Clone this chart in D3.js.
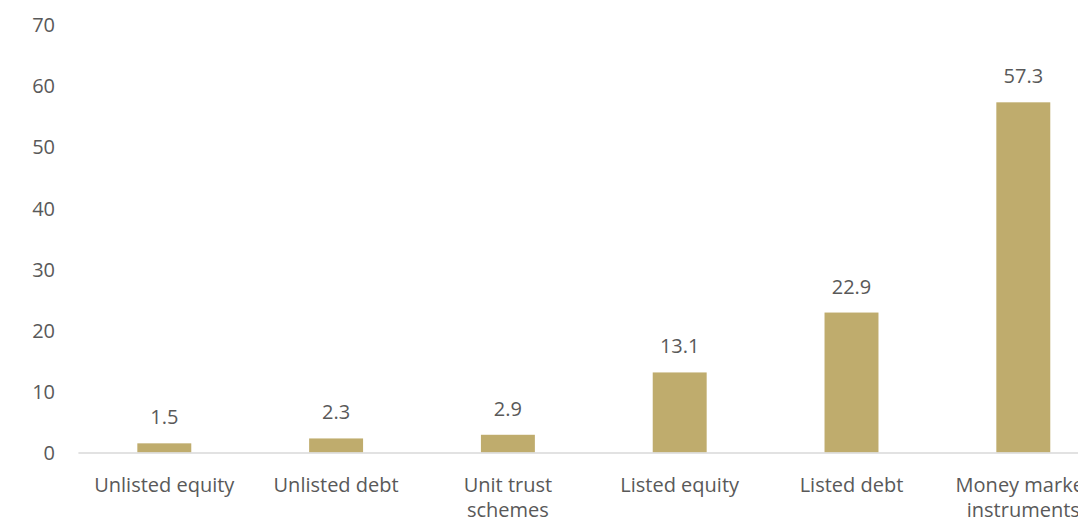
<!DOCTYPE html>
<html>
<head>
<meta charset="utf-8">
<script src="https://cdn.jsdelivr.net/npm/d3@7"></script>
<style>
  html, body { margin: 0; padding: 0; background: #fff; overflow: hidden; }
  svg { display: block; }
  text { font-family: "Open Sans", "Liberation Sans", sans-serif; fill: #595959; }
</style>
</head>
<body>
<svg id="chart" width="1078" height="518"></svg>
<script>
// Asset classes and their share values
const categories = [
  ["Unlisted equity"],
  ["Unlisted debt"],
  ["Unit trust", "schemes"],
  ["Listed equity"],
  ["Listed debt"],
  ["Money market", "instruments"]
];
const values = [1.5, 2.3, 2.9, 13.1, 22.9, 57.3];
const yTicks = [0, 10, 20, 30, 40, 50, 60, 70];

const svg = d3.select("#chart");
const barColor = "#bfac6d";
const fontSize = 20;

const x = d3.scaleBand()
  .domain(d3.range(categories.length))
  .range([78.4, 1109.2])
  .paddingInner(0.686)
  .paddingOuter(0.343);

const y = d3.scaleLinear()
  .domain([0, 70])
  .range([452.5, 24.7]);

// Y tick labels (no axis line)
const yAxis = d3.axisLeft(y).tickValues(yTicks).tickSize(0).tickPadding(0);
const yg = svg.append("g").attr("transform", "translate(55,0)").call(yAxis);
yg.select(".domain").remove();
yg.selectAll("text")
  .attr("font-size", fontSize)
  .attr("fill", "#595959")
  .attr("font-family", "Open Sans, Liberation Sans, sans-serif")
  .attr("dy", "0.35em");

// Bars
svg.append("g").selectAll("rect")
  .data(values)
  .join("rect")
  .attr("x", (d, i) => x(i))
  .attr("width", x.bandwidth())
  .attr("y", d => y(d))
  .attr("height", d => y(0) - y(d))
  .attr("fill", barColor);

// Baseline
svg.append("line")
  .attr("x1", 78.4).attr("x2", 1078)
  .attr("y1", y(0) + 0.5).attr("y2", y(0) + 0.5)
  .attr("stroke", "#d9d9d9")
  .attr("stroke-width", 1.5);

// Value labels
svg.append("g").selectAll("text")
  .data(values)
  .join("text")
  .attr("x", (d, i) => x(i) + x.bandwidth() / 2)
  .attr("y", d => y(d) - 19)
  .attr("text-anchor", "middle")
  .attr("font-size", fontSize)
  .text(d => d.toFixed(1));

// Category labels
const xl = svg.append("g").selectAll("text")
  .data(categories)
  .join("text")
  .attr("x", (d, i) => x(i) + x.bandwidth() / 2)
  .attr("y", 492)
  .attr("text-anchor", "middle")
  .attr("font-size", fontSize);
xl.selectAll("tspan")
  .data(d => d)
  .join("tspan")
  .attr("x", function () { return d3.select(this.parentNode).attr("x"); })
  .attr("dy", (d, i) => i === 0 ? 0 : 25)
  .text(d => d);
</script>
</body>
</html>
